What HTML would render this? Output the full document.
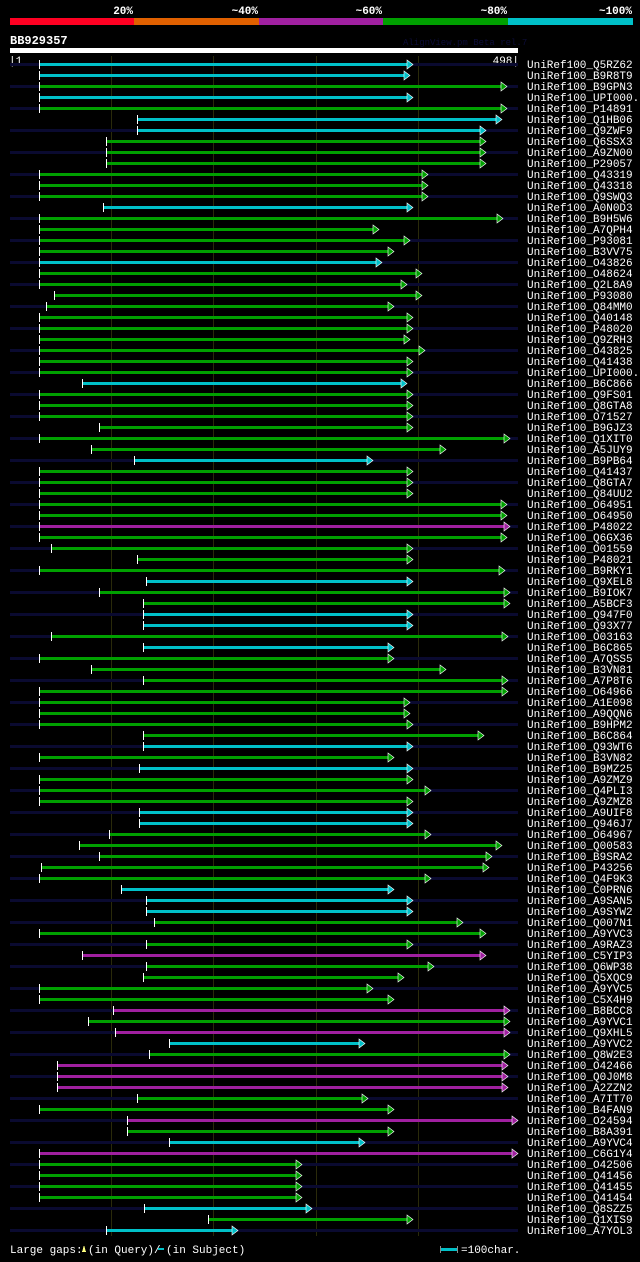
<!DOCTYPE html>
<html><head><meta charset="utf-8">
<style>
html,body{margin:0;padding:0;background:#000;}
body{width:640px;height:1257px;overflow:hidden;font-family:"Liberation Mono",monospace;}
svg text{font-family:"Liberation Mono",monospace;}
</style></head>
<body>
<svg id="chart" width="640" height="1257" viewBox="0 0 640 1257" xmlns="http://www.w3.org/2000/svg" shape-rendering="crispEdges">
<rect width="640" height="1257" fill="#000"/>
<g>
<rect x="10" y="18" width="124" height="7" fill="#ff0022"/>
<rect x="134" y="18" width="125" height="7" fill="#e06000"/>
<rect x="259" y="18" width="124" height="7" fill="#a020a0"/>
<rect x="383" y="18" width="125" height="7" fill="#00a000"/>
<rect x="508" y="18" width="125" height="7" fill="#00c0c8"/>
<text x="133" y="14" fill="#fff" font-size="11" font-weight="bold" text-anchor="end">20%</text>
<text x="258" y="14" fill="#fff" font-size="11" font-weight="bold" text-anchor="end">~40%</text>
<text x="382" y="14" fill="#fff" font-size="11" font-weight="bold" text-anchor="end">~60%</text>
<text x="507" y="14" fill="#fff" font-size="11" font-weight="bold" text-anchor="end">~80%</text>
<text x="632" y="14" fill="#fff" font-size="11" font-weight="bold" text-anchor="end">~100%</text>
</g>
<text x="10" y="44" fill="#fff" font-size="12" font-weight="bold">BB929357</text>
<text x="403" y="45" fill="#0c0c38" font-size="9">AlignView.pm Beta rel.7</text>
<rect x="10" y="48" width="508" height="5" fill="#fff"/>
<text x="9" y="64" fill="#fff" font-size="11">|1</text>
<text x="519" y="64" fill="#fff" font-size="11" text-anchor="end">498|</text>
<g id="grid"></g>
<g id="rows"></g>
<g>
<text x="10" y="1253" fill="#fff" font-size="11">Large gaps:</text>
<polygon points="82,1252 86,1252 84,1245" fill="#ffff80"/>
<text x="88" y="1253" fill="#fff" font-size="11">(in Query)/</text>
<rect x="158" y="1248" width="6" height="2" fill="#00c0c8"/>
<text x="166" y="1253" fill="#fff" font-size="11">(in Subject)</text>
<rect x="440" y="1246" width="1" height="7" fill="#888"/>
<rect x="441" y="1248" width="16" height="3" fill="#00c0c8"/>
<rect x="457" y="1246" width="1" height="7" fill="#888"/>
<text x="461" y="1253" fill="#fff" font-size="11">=100char.</text>
</g>
</svg>
<script>
const names = ["Q5RZ62","B9R8T9","B9GPN3","UPI000..","P14891","Q1HB06","Q9ZWF9","Q6SSX3","A9ZN00","P29057",
"Q43319","Q43318","Q9SWQ3","A0N0D3","B9H5W6","A7QPH4","P93081","B3VV75","O43826","O48624",
"Q2L8A9","P93080","Q84MM0","Q40148","P48020","Q9ZRH3","O43825","Q41438","UPI000..","B6C866",
"Q9FS01","Q8GTA8","O71527","B9GJZ3","Q1XIT0","A5JUY9","B9PB64","Q41437","Q8GTA7","Q84UU2",
"O64951","O64950","P48022","Q6GX36","O01559","P48021","B9RKY1","Q9XEL8","B9IOK7","A5BCF3",
"Q947F0","Q93X77","O03163","B6C865","A7QSS5","B3VN81","A7P8T6","O64966","A1E098","A9QQN6",
"B9HPM2","B6C864","Q93WT6","B3VN82","B9MZ25","A9ZMZ9","Q4PLI3","A9ZMZ8","A9UIF8","Q946J7",
"O64967","Q00583","B9SRA2","P43256","Q4F9K3","C0PRN6","A9SAN5","A9SYW2","Q007N1","A9YVC3",
"A9RAZ3","C5YIP3","Q6WP38","Q5XQC9","A9YVC5","C5X4H9","B8BCC8","A9YVC1","Q9XHL5","A9YVC2",
"Q8W2E3","O42466","Q0J0M8","A2ZZN2","A7IT70","B4FAN9","O24594","B8A391","A9YVC4","C6G1Y4",
"O42506","Q41456","Q41455","Q41454","Q8SZZ5","Q1XIS9","A7YOL3"];
const starts = [30,30,30,30,30,126,126,96,96,96,
30,30,30,93,30,30,30,30,30,30,
30,45,37,30,30,30,30,30,30,72,
30,30,30,89,30,81,123,30,30,30,
30,30,30,30,42,126,30,135,89,132,
132,132,42,132,30,81,132,30,30,30,
30,132,132,30,128,30,30,30,128,128,
99,69,89,32,30,111,135,135,143,30,
135,72,135,132,30,30,103,78,105,158,
138,48,48,48,126,30,116,116,158,30,
30,30,30,30,133,196,96];
const ends = [395,392,487,395,487,482,467,467,467,467,
410,410,410,395,483,362,392,377,365,404,
389,404,377,395,395,392,407,395,395,389,
395,395,395,395,490,428,356,395,395,395,
487,487,490,487,395,395,485,395,490,490,
395,395,488,377,377,428,488,488,392,392,
395,465,395,377,395,395,413,395,395,395,
413,482,473,470,413,377,395,395,444,467,
395,467,416,386,356,377,490,490,490,348,
490,488,488,488,351,377,498,377,348,498,
287,287,287,287,296,395,224];
// identity class: 0 red,1 orange,2 purple,3 green,4 cyan
const ident = [4,4,3,4,3,4,4,3,3,3,
3,3,3,4,3,3,3,3,4,3,
3,3,3,3,3,3,3,3,3,4,
3,3,3,3,3,3,4,3,3,3,
3,3,2,3,3,3,3,4,3,3,
4,4,3,4,3,3,3,3,3,3,
3,3,4,3,4,3,3,3,4,4,
3,3,3,3,3,4,4,4,3,3,
3,2,3,3,3,3,2,3,2,4,
3,2,2,2,3,3,2,3,4,2,
3,3,3,3,4,3,4];
const palette = ["#ff0022","#e06000","#a020a0","#00a000","#00c0c8"];
const gridTicks = [100,200,300,400];

const NS = "http://www.w3.org/2000/svg";
const X0 = 10, X1 = 518, QLEN = 498;
function xs(p){ return Math.round(X0 + (p-1)*(X1-X0)/(QLEN-1)); }
function ys(i){ return 64 + i*11; }
function mk(tag, attrs, parent){
  const e = document.createElementNS(NS, tag);
  for (const k in attrs) e.setAttribute(k, attrs[k]);
  parent.appendChild(e); return e;
}
const grid = document.getElementById("grid");
gridTicks.forEach(t => {
  const l = mk("rect",{x:xs(t),y:56,width:1,height:1180,fill:"#2a2a0a"},grid);
  
  
});
const rows = document.getElementById("rows");
names.forEach((n,i) => {
  const g = mk("g",{},rows);
  
  
  const y = ys(i);
  if (i % 2 === 0) {
    const bg = mk("rect",{x:X0,y:y-1,width:X1-X0,height:3,fill:"#0a0a30"},g);
    
    
  }
  const c = palette[ident[i]];
  const sx = xs(starts[i]), ex = xs(ends[i]);
  const bar = mk("rect",{x:sx,y:y-1,width:ex-sx-5,height:3,fill:c},g);
  
  
  const tick = mk("rect",{x:sx-1,y:y-4,width:1,height:9,fill:"#fff"},g);
  
  
  const ar = mk("polygon",{points:`${ex-6},${y-4} ${ex},${y+0.5} ${ex-6},${y+5}`,fill:c,stroke:"#fff","stroke-width":0.6,"shape-rendering":"auto"},g);
  
  
  const t = mk("text",{x:527,y:y+4,fill:"#fff","font-size":"11"},g);
  t.textContent = "UniRef100_" + n;
  
  
});
</script>
</body></html>
